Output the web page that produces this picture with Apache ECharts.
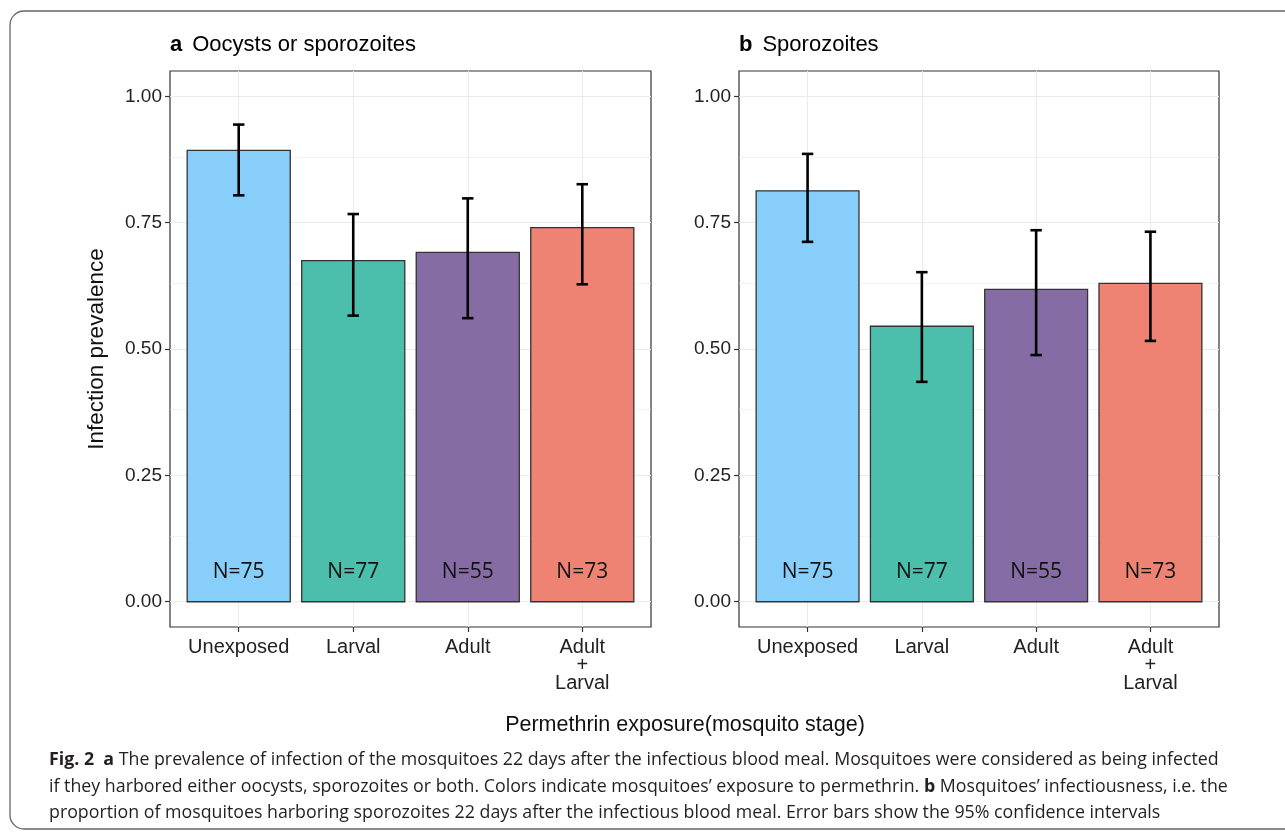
<!DOCTYPE html>
<html>
<head>
<meta charset="utf-8">
<script src="https://cdn.jsdelivr.net/npm/echarts@6/dist/echarts.min.js"></script>
<style>html,body{margin:0;padding:0;background:#fff;}#c{width:1285px;height:833px;}</style>
</head>
<body>
<div id="c"></div>
<script>
// ---- data ----
const categories = ['Unexposed', 'Larval', 'Adult', 'Adult\n+\nLarval'];
const nLabels = ['N=75', 'N=77', 'N=55', 'N=73'];
const prevA = [0.893, 0.675, 0.691, 0.740];
const lowA  = [0.804, 0.566, 0.561, 0.628];
const highA = [0.944, 0.767, 0.798, 0.826];
const prevB = [0.813, 0.545, 0.618, 0.630];
const lowB  = [0.712, 0.435, 0.488, 0.516];
const highB = [0.886, 0.652, 0.735, 0.732];
const barColors = ['#87CEFA', '#4CBEAC', '#866CA5', '#EE8373'];
const yTicks = [0, 0.25, 0.5, 0.75, 1.0];
const yMinor = [0.125, 0.375, 0.625, 0.875];
const xPos = [1, 2, 3, 4];
const panelTitles = [['a', 'Oocysts or sporozoites'], ['b', 'Sporozoites']];
const captionLines = [
  '{fb|Fig. 2}  {b|a} The prevalence of infection of the mosquitoes 22 days after the infectious blood meal. Mosquitoes were considered as being infected',
  'if they harbored either oocysts, sporozoites or both. Colors indicate mosquitoes\u2019 exposure to permethrin. {b|b} Mosquitoes\u2019 infectiousness, i.e. the',
  'proportion of mosquitoes harboring sporozoites 22 days after the infectious blood meal. Error bars show the 95% confidence intervals'
];

const FONT = 'Liberation Sans, Arial, sans-serif';
const CAPFONT = 'Open Sans, Noto Sans, sans-serif';
const chart = echarts.init(document.getElementById('c'), null, {renderer: 'canvas'});

const grids = [
  {left: 170, top: 71, width: 481, height: 556},
  {left: 739, top: 71, width: 480, height: 556}
];

function xAxisFor(i) {
  return {
    type: 'value', gridIndex: i, min: 0.4, max: 4.6,
    axisLine: {show: false, onZero: false},
    splitLine: {show: false},
    axisTick: {show: true, customValues: xPos, length: 5, lineStyle: {color: '#333', width: 1.2}},
    axisLabel: {
      customValues: xPos, margin: 11,
      formatter: v => categories[Math.round(v) - 1] || '',
      fontFamily: FONT, fontSize: 20, color: '#222', lineHeight: 18
    }
  };
}
function yAxisFor(i) {
  return {
    type: 'value', gridIndex: i, min: -0.05, max: 1.05,
    axisLine: {show: false, onZero: false},
    splitLine: {show: false},
    axisTick: {show: true, customValues: yTicks, length: 5, lineStyle: {color: '#333', width: 1.2}},
    axisLabel: {
      customValues: yTicks, margin: 8,
      formatter: v => v.toFixed(2),
      fontFamily: FONT, fontSize: 19, color: '#222'
    },
    name: i === 0 ? 'Infection prevalence' : '',
    nameLocation: 'middle', nameGap: 62, nameRotate: 90,
    nameTextStyle: {fontFamily: FONT, fontSize: 22.5, color: '#111'}
  };
}

function gridSeries(i) {
  const ml = [];
  yTicks.forEach(v => ml.push({yAxis: v, lineStyle: {width: 1.1}}));
  yMinor.forEach(v => ml.push({yAxis: v, lineStyle: {width: 0.6}}));
  xPos.forEach(v => ml.push({xAxis: v, lineStyle: {width: 1.1}}));
  return {
    type: 'line', xAxisIndex: i, yAxisIndex: i, data: [], z: 1, silent: true,
    markLine: {
      silent: true, symbol: ['none', 'none'], animation: false, z: 1,
      label: {show: false},
      lineStyle: {color: '#ebebeb', type: 'solid'},
      data: ml
    }
  };
}

function barSeries(i, prev, low, high) {
  const data = prev.map((p, k) => [xPos[k], p, low[k], high[k], k]);
  return {
    type: 'custom', xAxisIndex: i, yAxisIndex: i, z: 10,
    data: data,
    renderItem: function (params, api) {
      const x = api.value(0), p = api.value(1), lo = api.value(2), hi = api.value(3), k = api.value(4);
      const tl = api.coord([x - 0.45, p]);
      const br = api.coord([x + 0.45, 0]);
      const eTop = api.coord([x, hi]);
      const eBot = api.coord([x, lo]);
      const capL = api.coord([x - 0.05, hi]);
      const capR = api.coord([x + 0.05, hi]);
      const capL2 = api.coord([x - 0.05, lo]);
      const capR2 = api.coord([x + 0.05, lo]);
      const lab = api.coord([x, 0.058]);
      return {
        type: 'group',
        children: [
          {type: 'rect', shape: {x: tl[0], y: tl[1], width: br[0] - tl[0], height: br[1] - tl[1]},
           style: {fill: barColors[k], stroke: '#333', lineWidth: 1.3}},
          {type: 'text', style: {text: nLabels[k], x: lab[0], y: lab[1], align: 'center', verticalAlign: 'middle',
            fontFamily: CAPFONT, fontSize: 21, fill: '#111'}},
          {type: 'line', shape: {x1: eTop[0], y1: eTop[1], x2: eBot[0], y2: eBot[1]}, style: {stroke: '#000', lineWidth: 2.6}},
          {type: 'line', shape: {x1: capL[0], y1: capL[1], x2: capR[0], y2: capR[1]}, style: {stroke: '#000', lineWidth: 2.6}},
          {type: 'line', shape: {x1: capL2[0], y1: capL2[1], x2: capR2[0], y2: capR2[1]}, style: {stroke: '#000', lineWidth: 2.6}}
        ]
      };
    }
  };
}

const graphics = [
  {type: 'rect', silent: true, shape: {x: 10, y: 11, width: 1300, height: 818, r: 14},
   style: {fill: 'none', stroke: '#666', lineWidth: 1.3}},
  {type: 'text', silent: true, x: 685, y: 725,
   style: {text: 'Permethrin exposure(mosquito stage)', align: 'center', verticalAlign: 'middle',
     fontFamily: FONT, fontSize: 21.5, fill: '#111'}}
];
panelTitles.forEach((t, i) => {
  graphics.push({type: 'text', silent: true, x: grids[i].left, y: 45,
    style: {text: '{b|' + t[0] + '}   {n|' + t[1] + '}', verticalAlign: 'middle',
      rich: {b: {fontFamily: FONT, fontSize: 22, fontWeight: 'bold', fill: '#000'},
             n: {fontFamily: FONT, fontSize: 22, fill: '#000'}}}});
});
const capY = [760, 787, 813];
const CAPSIZE = 17.8;
captionLines.forEach((line, i) => {
  graphics.push({type: 'text', silent: true, x: 49, y: capY[i],
    style: {text: line, verticalAlign: 'middle', fontFamily: CAPFONT, fontSize: CAPSIZE, fill: '#231f20',
      rich: {fb: {fontFamily: CAPFONT, fontSize: CAPSIZE, fontWeight: 'bold', fill: '#231f20'},
             b: {fontFamily: CAPFONT, fontSize: CAPSIZE, fontWeight: 'bold', fill: '#231f20'}}}});
});

chart.setOption({
  animation: false,
  backgroundColor: '#fff',
  grid: grids.map(g => Object.assign({show: true, borderColor: '#333', borderWidth: 1.2, backgroundColor: '#fff', containLabel: false}, g)),
  xAxis: [xAxisFor(0), xAxisFor(1)],
  yAxis: [yAxisFor(0), yAxisFor(1)],
  series: [gridSeries(0), gridSeries(1), barSeries(0, prevA, lowA, highA), barSeries(1, prevB, lowB, highB)],
  graphic: graphics
});
</script>
</body>
</html>
